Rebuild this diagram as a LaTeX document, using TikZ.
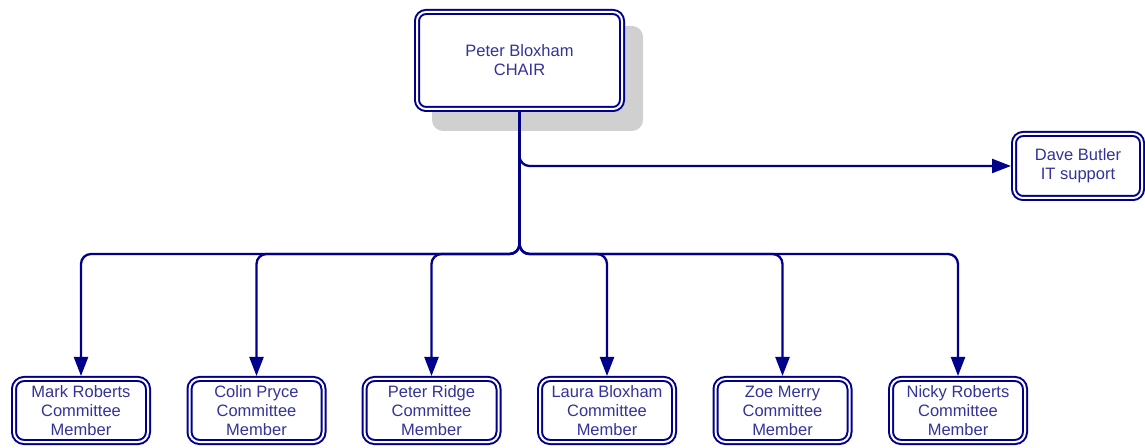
\documentclass[tikz,border=0pt]{standalone}
\usepackage{fontspec}
\setmainfont{Liberation Sans}
\usetikzlibrary{calc,arrows.meta}
\definecolor{navyline}{RGB}{0,0,139}
\definecolor{navytext}{RGB}{51,51,153}
\definecolor{shadowgray}{RGB}{208,208,208}
\tikzset{
	person/.style={rectangle,rounded corners=9pt,draw=navyline,double=white,double distance=2pt,line width=2pt,fill=white,text=navytext,align=center,font=\fontsize{16.5}{19}\selectfont,inner sep=0pt,outer sep=3pt},
	member/.style={person,rounded corners=10pt,minimum width=134pt,minimum height=63pt},
	shadowbox/.style={rectangle,rounded corners=11pt,fill=shadowgray,inner sep=0pt,minimum width=211pt,minimum height=105pt},
	directed/.style={draw=navyline,line width=2.3pt,rounded corners=10pt,arrows={-Triangle[length=19pt,width=14pt]}}
	}
\begin{document}
\begin{tikzpicture}[x=1pt,y=1pt]
          \useasboundingbox (0,0) rectangle (1145,447);

          % chair with its shadow
          \node[shadowbox] (chairshadow) at (537.5,368.5) {};
          \node[person,minimum width=205pt,minimum height=97pt] (chair) at (519.5,386.5) {Peter Bloxham\\CHAIR};
          \node[person,minimum width=128pt,minimum height=64pt] (dave) at (1078,281) {Dave Butler\\IT support};

          % committee
          \node[member] (mark) at (81,36.5) {Mark Roberts\\Committee\\Member};
          \node[member] (colin) at (256.5,36.5) {Colin Pryce\\Committee\\Member};
          \node[member] (ridge) at (431.5,36.5) {Peter Ridge\\Committee\\Member};
          \node[member] (laura) at (607,36.5) {Laura Bloxham\\Committee\\Member};
          \node[member] (zoe) at (782.5,36.5) {Zoe Merry\\Committee\\Member};
          \node[member] (nicky) at (958,36.5) {Nicky Roberts\\Committee\\Member};

          \coordinate (bus) at (519.5,193);

          \draw[directed] (chair.south) |- (dave.west);
          \draw[directed] (chair.south) -- (bus) -| (mark.north);
          \draw[directed] (chair.south) -- (bus) -| (colin.north);
          \draw[directed] (chair.south) -- (bus) -| (ridge.north);
          \draw[directed] (chair.south) -- (bus) -| (laura.north);
          \draw[directed] (chair.south) -- (bus) -| (zoe.north);
          \draw[directed] (chair.south) -- (bus) -| (nicky.north);
        \end{tikzpicture}
\end{document}
